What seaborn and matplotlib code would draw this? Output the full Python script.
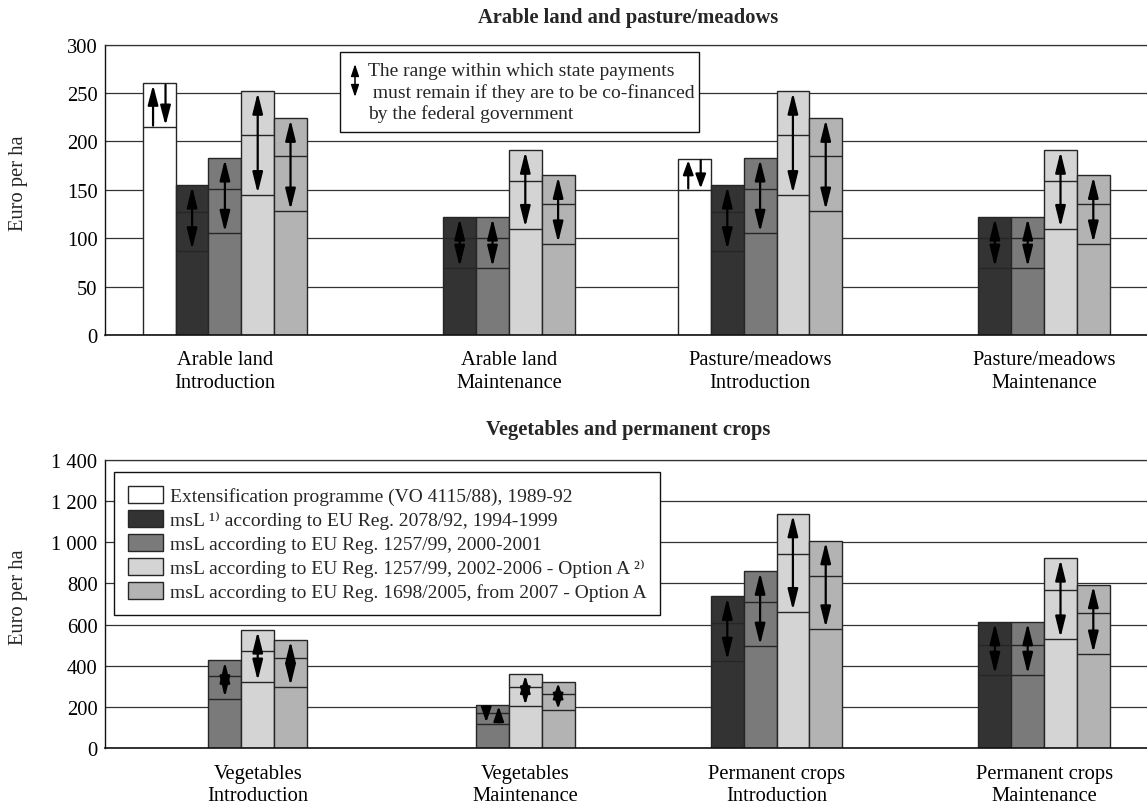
import numpy as np
import pandas as pd
import matplotlib
matplotlib.use("Agg")
import matplotlib.pyplot as plt
from matplotlib.patches import FancyArrowPatch, ArrowStyle, Rectangle, Patch
import seaborn as sns

# ---------------- data ----------------
series = [
    "Extensification programme (VO 4115/88), 1989-92",
    "msL \u00b9\u207e according to EU Reg. 2078/92, 1994-1999",
    "msL according to EU Reg. 1257/99, 2000-2001",
    "msL according to EU Reg. 1257/99, 2002-2006 - Option A \u00b2\u207e",
    "msL according to EU Reg. 1698/2005, from 2007 - Option A",
]
series_colors = ["#ffffff", "#333333", "#7a7a7a", "#d4d4d4", "#b3b3b3"]

top_title = "Arable land and pasture/meadows"
top_groups = ["Arable land\nIntroduction", "Arable land\nMaintenance",
              "Pasture/meadows\nIntroduction", "Pasture/meadows\nMaintenance"]
# rows follow `series`; None = no bar
top_low = [[215, None, 150, None],
           [87, 69, 87, 69],
           [105, 69, 105, 69],
           [145, 110, 145, 110],
           [128, 94, 128, 94]]
top_mid = [[None, None, None, None],
           [127, 100, 127, 100],
           [151, 100, 151, 100],
           [207, 159, 207, 159],
           [185, 135, 185, 135]]
top_high = [[260, None, 182, None],
            [155, 122, 155, 122],
            [183, 122, 183, 122],
            [252, 191, 252, 191],
            [224, 165, 224, 165]]
top_ticks = [0, 50, 100, 150, 200, 250, 300]
top_tick_labels = ["0", "50", "100", "150", "200", "250", "300"]

bottom_title = "Vegetables and permanent crops"
bottom_groups = ["Vegetables\nIntroduction", "Vegetables\nMaintenance",
                 "Permanent crops\nIntroduction", "Permanent crops\nMaintenance"]
bottom_low = [[None, None, None, None],
              [None, None, 422, 354],
              [240, 119, 495, 354],
              [321, 203, 663, 530],
              [297, 184, 579, 457]]
bottom_mid = [[None, None, None, None],
              [None, None, 606, 503],
              [353, 171, 710, 503],
              [474, 297, 943, 767],
              [437, 261, 834, 655]]
bottom_high = [[None, None, None, None],
               [None, None, 737, 614],
               [427, 211, 859, 614],
               [574, 361, 1138, 923],
               [527, 323, 1007, 794]]
bottom_ticks = [0, 200, 400, 600, 800, 1000, 1200, 1400]
bottom_tick_labels = ["0", "200", "400", "600", "800", "1 000", "1 200", "1 400"]

y_label = "Euro per ha"
note_lines = ["The range within which state payments",
              " must remain if they are to be co-financed",
              "by the federal government"]

# bars whose range is shown by two separate one-headed arrows (left, right)
top_split = {(0, g): ("up", "down") for g in range(4)}
bottom_split = {(2, 1): ("down", "up")}

# ---------------- style ----------------
sns.set_theme(style="white")
plt.rcParams["font.family"] = ["Liberation Serif", "DejaVu Serif"]

W, H, DPI = 1147, 812, 100
FS = 14.8
EDGE = "#262626"
GROUP_WIDTH = 0.613
HL_PX = 17.5       # arrow head length (px)
HW_PT = 3.1        # arrow head half width (pt)
LW_ARROW = 1.6

fig = plt.figure(figsize=(W / DPI, H / DPI), dpi=DPI)
fig.patch.set_facecolor("white")

ax_top = fig.add_axes([104.5 / W, 1 - 336 / H, 1 - 104.5 / W, (336 - 45.7) / H])
ax_bot = fig.add_axes([104.5 / W, 1 - 749.3 / H, 1 - 104.5 / W, (749.3 - 460.7) / H])

XLIM = ((104.5 - 224.9) / 267.6, (W - 224.9) / 267.6)


def px2pt(px):
    return px * 72.0 / DPI


def add_arrow(ax, x, y0, y1, head_px, double):
    style = ArrowStyle("<|-|>" if double else "-|>",
                       head_length=px2pt(head_px), head_width=HW_PT)
    ax.add_patch(FancyArrowPatch((x, y0), (x, y1), arrowstyle=style,
                                 mutation_scale=1, lw=LW_ARROW, color="black",
                                 shrinkA=1, shrinkB=1, zorder=4))


def draw_panel(ax, groups, low, mid, high, ticks, tick_labels, split):
    rows = []
    for s, name in enumerate(series):
        for g, grp in enumerate(groups):
            if high[s][g] is not None:
                rows.append({"group": grp, "series": name, "value": high[s][g]})
    df = pd.DataFrame(rows)
    sns.barplot(data=df, x="group", y="value", hue="series", order=groups,
                hue_order=series, palette=dict(zip(series, series_colors)),
                dodge=True, width=GROUP_WIDTH, edgecolor=EDGE, linewidth=1.0,
                errorbar=None, legend=False, ax=ax, zorder=2)

    ax.set_ylim(ticks[0], ticks[-1])
    ax.set_xlim(*XLIM)
    ax.set_yticks(ticks)
    ax.set_yticklabels(tick_labels)
    ax.set_xlabel("")
    ax.set_ylabel("")
    ax.set_axisbelow(True)
    ax.yaxis.grid(True, color="#333333", lw=0.9)
    ax.xaxis.grid(False)
    ax.spines["right"].set_visible(False)
    ax.spines["top"].set_color("#333333")
    ax.spines["top"].set_linewidth(0.9)
    ax.spines["left"].set_color("#111111")
    ax.spines["left"].set_linewidth(1.0)
    ax.spines["bottom"].set_color("#111111")
    ax.spines["bottom"].set_linewidth(1.2)
    ax.tick_params(axis="y", length=0, pad=5, labelsize=FS, colors="black")
    ax.tick_params(axis="x", length=0, pad=11, labelsize=FS, colors="black")

    n = len(series)
    each = GROUP_WIDTH / n
    ppu = ax.bbox.height / (ticks[-1] - ticks[0])  # px per data unit

    centers = []
    for g in range(len(groups)):
        xs = []
        for s in range(n):
            hi = high[s][g]
            if hi is None:
                continue
            x = g + each * s + each / 2 - GROUP_WIDTH / 2
            xs.append(x)
            lo = low[s][g]
            md = mid[s][g]
            for yv in (lo, md):
                if yv is not None:
                    ax.hlines(yv, x - each / 2, x + each / 2, color=EDGE,
                              lw=1.0, zorder=3)
            L = (hi - lo) * ppu
            if (s, g) in split:
                hl = min(HL_PX, 0.38 * L) if L > 25 else 0.66 * L
                for off, d in zip((-0.19, 0.19), split[(s, g)]):
                    if d == "up":
                        add_arrow(ax, x + off * each, lo, hi, hl, False)
                    else:
                        add_arrow(ax, x + off * each, hi, lo, hl, False)
            else:
                hl = min(HL_PX, 0.5 * (L - 3))
                add_arrow(ax, x, lo, hi, hl, True)
        centers.append(np.mean(xs))
    ax.set_xticks(centers)
    ax.set_xticklabels(groups, fontsize=FS, linespacing=1.25)


draw_panel(ax_top, top_groups, top_low, top_mid, top_high,
           top_ticks, top_tick_labels, top_split)
draw_panel(ax_bot, bottom_groups, bottom_low, bottom_mid, bottom_high,
           bottom_ticks, bottom_tick_labels, bottom_split)

# titles
fig.text(628 / W, 1 - 18 / H, top_title, ha="center", va="center",
         fontsize=FS, fontweight="bold")
fig.text(628 / W, 1 - 430 / H, bottom_title, ha="center", va="center",
         fontsize=FS, fontweight="bold")

# y labels
fig.text(18.5 / W, 1 - 183.5 / H, y_label, rotation=90, ha="center",
         va="center", fontsize=FS)
fig.text(18.5 / W, 1 - 597 / H, y_label, rotation=90, ha="center",
         va="center", fontsize=FS)

# note box (top panel)
fig.add_artist(Rectangle((340 / W, 1 - 133.3 / H), (699.3 - 340) / W,
                         (133.3 - 52.7) / H, transform=fig.transFigure,
                         facecolor="white", edgecolor="#111111", lw=1.0,
                         zorder=5))
for i, line in enumerate(note_lines):
    fig.text(368.3 / W, 1 - (72 + 20.8 * i) / H, line, ha="left",
             va="center", fontsize=14, zorder=6)
icon_style = ArrowStyle("<|-|>", head_length=px2pt(10), head_width=2.4)
fig.add_artist(FancyArrowPatch((355 / W, 1 - 98 / H), (355 / W, 1 - 65 / H),
                               transform=fig.transFigure, arrowstyle=icon_style,
                               mutation_scale=1, lw=1.1, color="black",
                               shrinkA=0, shrinkB=0, zorder=6))

# legend (bottom panel)
handles = [Patch(facecolor=c, edgecolor=EDGE, lw=1.0, label=s)
           for s, c in zip(series, series_colors)]
leg = ax_bot.legend(handles=handles, loc="upper left",
                    bbox_to_anchor=(114.3 / W, 1 - 473 / H),
                    bbox_transform=fig.transFigure, frameon=True,
                    fancybox=False, edgecolor="#111111", framealpha=1,
                    fontsize=14, handlelength=1.78, handleheight=1.03,
                    handletextpad=0.38, labelspacing=0.23, borderpad=0.7,
                    borderaxespad=0)
leg.get_frame().set_linewidth(1.0)
leg.set_zorder(10)

fig.savefig("out.png", dpi=DPI, facecolor="white")
